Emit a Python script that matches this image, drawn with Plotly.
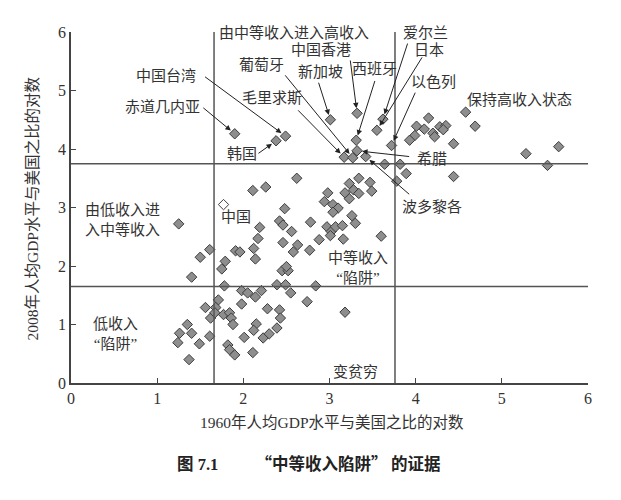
import plotly.graph_objects as go

# ---------------- data ----------------
# unlabelled economies: log of per-capita GDP relative to the US
x1960 = [1.25, 1.40, 1.50, 1.61, 1.75, 1.79, 1.78, 1.91, 1.96, 2.19, 2.17, 2.12, 2.14,
         2.48, 2.42, 2.46, 2.56, 2.46, 2.63, 2.58, 2.78, 2.77, 2.88, 2.45, 2.52, 2.50,
         2.39, 2.49, 2.55, 2.84, 2.74, 2.21, 2.14, 1.98, 2.05, 1.98, 1.71, 1.56, 1.68,
         1.62, 1.67, 1.77, 1.84, 1.86, 1.88, 2.28, 2.42, 2.43, 2.39, 2.15, 2.12, 2.01,
         2.23, 2.30, 1.82, 1.84, 1.90, 2.11, 1.61, 1.49, 1.40, 1.35, 1.26, 1.24, 1.37,
         2.62, 2.11, 2.26, 3.18, 3.60, 2.97, 3.02, 3.07, 3.15, 3.01, 3.16, 2.94, 2.98,
         3.04, 3.10, 3.04, 3.26, 3.30, 3.34, 3.47, 3.49, 3.23, 3.28, 3.18, 3.34, 3.23,
         3.64, 3.82, 3.89, 3.78, 4.44, 4.58, 4.69, 4.15, 4.01, 4.10, 3.99, 3.93, 4.20,
         4.22, 4.28, 4.35, 4.32, 4.44, 5.28, 5.53, 5.66]
y2008 = [2.72, 1.81, 2.15, 2.28, 1.95, 2.08, 1.66, 2.26, 2.24, 2.66, 2.47, 2.30, 2.12,
         2.98, 2.77, 2.70, 2.59, 2.40, 2.36, 2.24, 2.75, 2.27, 2.45, 1.92, 1.92, 1.99,
         1.68, 1.68, 1.54, 1.66, 1.39, 1.58, 1.47, 1.58, 1.54, 1.35, 1.42, 1.29, 1.29,
         1.11, 1.20, 1.17, 1.20, 1.11, 1.00, 1.27, 1.25, 1.11, 0.94, 1.01, 0.90, 0.78,
         0.77, 0.84, 0.65, 0.57, 0.48, 0.52, 0.80, 0.67, 0.85, 1.00, 0.85, 0.69, 0.40,
         3.50, 3.29, 3.35, 1.21, 2.51, 2.67, 2.59, 2.67, 2.69, 2.52, 2.46, 3.10, 3.25,
         3.05, 2.99, 2.92, 2.86, 2.73, 3.50, 3.43, 3.28, 3.41, 3.30, 3.25, 3.24, 3.15,
         3.74, 3.74, 3.58, 3.45, 3.53, 4.63, 4.39, 4.53, 4.39, 4.34, 4.23, 4.15, 4.27,
         4.21, 4.38, 4.40, 4.33, 4.09, 3.92, 3.72, 4.04]

# labelled economies
names = ["赤道几内亚", "韩国", "中国台湾", "新加坡", "中国香港", "爱尔兰", "日本",
         "西班牙", "以色列", "毛里求斯", "葡萄牙", "希腊", "波多黎各"]
names_x = [1.90, 2.38, 2.49, 3.01, 3.32, 3.62, 3.55, 3.31, 3.72, 3.17, 3.27, 3.32, 3.42]
names_y = [4.26, 4.14, 4.22, 4.50, 4.61, 4.51, 4.32, 4.15, 4.06, 3.86, 3.85, 3.97, 3.87]

china_name = "中国"
china_x = [1.77]
china_y = [3.05]

# thresholds separating income groups
x_cut_low, x_cut_high = 1.66, 3.76
y_cut_low, y_cut_high = 1.65, 3.75

x_ticks = [0, 1, 2, 3, 4, 5, 6]
y_ticks = [0, 1, 2, 3, 4, 5, 6]

x_title = "1960年人均GDP水平与美国之比的对数"
y_title = "2008年人均GDP水平与美国之比的对数"
caption_num = "图 7.1"
caption_text = "“中等收入陷阱” 的证据"

# ---------------- layout helpers ----------------
FONT = "Liberation Serif, Noto Sans CJK SC, serif"
CJK = "Noto Sans CJK SC"
TXT = "#333333"

# label text centres and arrow tails (data coordinates), keyed by name
label_pos = {
    "赤道几内亚": ((1.06, 4.71), (1.53, 4.71)),
    "韩国": ((1.98, 3.92), (2.17, 3.92)),
    "中国台湾": ((1.10, 5.24), (1.55, 5.24)),
    "新加坡": ((2.89, 5.32), (2.87, 5.15)),
    "中国香港": ((2.90, 5.70), (3.24, 5.53)),
    "爱尔兰": ((4.11, 5.99), (3.91, 5.82)),
    "日本": ((4.15, 5.70), (4.08, 5.58)),
    "西班牙": ((3.52, 5.36), (3.53, 5.18)),
    "以色列": ((4.21, 5.15), (4.00, 4.98)),
    "毛里求斯": ((2.33, 4.88), (2.63, 4.67)),
    "葡萄牙": ((2.21, 5.44), (2.48, 5.27)),
    "希腊": ((4.19, 3.83), (3.93, 3.87)),
    "波多黎各": ((4.19, 3.01), (3.93, 3.22)),
}

fig = go.Figure()

marker_style = dict(symbol="diamond", size=8, color="#8e8e8e",
                    line=dict(color="#3c3c3c", width=1))
fig.add_trace(go.Scatter(x=x1960 + names_x, y=y2008 + names_y, mode="markers",
                         marker=marker_style, hoverinfo="skip"))
fig.add_trace(go.Scatter(x=china_x, y=china_y, mode="markers",
                         marker=dict(symbol="diamond", size=8, color="white",
                                     line=dict(color="#3c3c3c", width=1)),
                         hoverinfo="skip"))

line_style = dict(color="#555555", width=1.5)
shapes = [
    dict(type="line", xref="x", yref="y", x0=x_cut_low, x1=x_cut_low, y0=0, y1=6.05, line=line_style),
    dict(type="line", xref="x", yref="y", x0=x_cut_high, x1=x_cut_high, y0=0, y1=6.05, line=line_style),
    dict(type="line", xref="x", yref="y", x0=0, x1=6, y0=y_cut_low, y1=y_cut_low, line=line_style),
    dict(type="line", xref="x", yref="y", x0=0, x1=6, y0=y_cut_high, y1=y_cut_high, line=line_style),
]

annotations = []
lab_font = dict(family=FONT, size=15, color=TXT)
for n, px, py in zip(names, names_x, names_y):
    (tx, ty), (ax, ay) = label_pos[n]
    annotations.append(dict(x=tx, y=ty, xref="x", yref="y", text=n, showarrow=False,
                            font=lab_font, xanchor="center", yanchor="middle"))
    annotations.append(dict(x=px, y=py, xref="x", yref="y", ax=ax, ay=ay,
                            axref="x", ayref="y", text=" ", font=dict(size=1),
                            showarrow=True, arrowhead=2, arrowsize=1.1, arrowwidth=1,
                            arrowcolor="#222222", standoff=5, borderpad=0))

annotations.append(dict(x=china_x[0] + 0.14, y=china_y[0] - 0.21, xref="x", yref="y",
                        text=china_name, showarrow=False, font=lab_font))

region_text = [
    ("由中等收入进入高收入", 1.70, 5.99, "left"),
    ("保持高收入状态", 5.21, 4.84, "center"),
    ("由低收入进<br>入中等收入", 0.14, 2.79, "left"),
    ("低收入<br>“陷阱”", 0.52, 0.84, "center"),
    ("中等收入<br>“陷阱”", 3.33, 1.97, "center"),
    ("变贫穷", 3.30, 0.18, "center"),
]
for t, x, y, anc in region_text:
    annotations.append(dict(x=x, y=y, xref="x", yref="y", text=t, showarrow=False,
                            font=lab_font, xanchor=anc, yanchor="middle", align="center"))

annotations.append(dict(x=0.505, y=-0.113, xref="paper", yref="paper", text=x_title,
                        showarrow=False, font=dict(family=FONT, size=15.5, color=TXT),
                        xanchor="center", yanchor="middle"))
annotations.append(dict(x=-0.0735, y=0.497, xref="paper", yref="paper", text=y_title,
                        showarrow=False, textangle=-90,
                        font=dict(family=FONT, size=15.5, color=TXT),
                        xanchor="center", yanchor="middle"))
caption_html = ("<b>" + caption_num + "　　 " +
                "<span style=\"font-family:'" + CJK + "'\">" + caption_text + "</span></b>")
annotations.append(dict(x=(175 - 71) / 517, y=-0.227, xref="paper", yref="paper",
                        text=caption_html, showarrow=False,
                        font=dict(family=FONT, size=16.5, color="#222222"),
                        xanchor="left", yanchor="middle"))

axis_common = dict(showgrid=False, zeroline=False, showline=True, linecolor="#444444",
                   linewidth=1.5, ticks="inside", ticklen=5, tickcolor="#444444",
                   tickwidth=1.2, tickfont=dict(family=FONT, size=16, color=TXT))

fig.update_layout(
    width=621, height=500,
    margin=dict(l=71, r=33, t=32, b=117),
    paper_bgcolor="white", plot_bgcolor="white",
    showlegend=False,
    xaxis=dict(range=[0, 6], tickvals=x_ticks, ticktext=[str(v) for v in x_ticks], **axis_common),
    yaxis=dict(range=[0, 6], tickvals=y_ticks, ticktext=[str(v) for v in y_ticks], **axis_common),
    shapes=shapes,
    annotations=annotations,
)

fig.write_html("out.html")
